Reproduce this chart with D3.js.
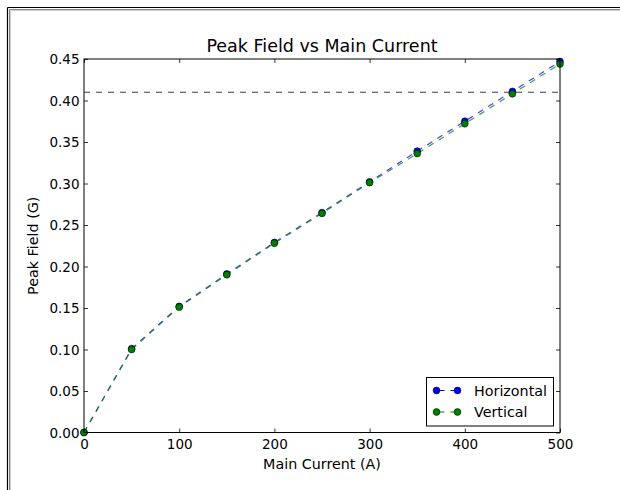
<!DOCTYPE html>
<html>
<head>
<meta charset="utf-8">
<script src="https://cdn.jsdelivr.net/npm/d3@7"></script>
<style>
html,body{margin:0;padding:0;background:#fff;}
svg{display:block;}
text{font-family:"DejaVu Sans",sans-serif;fill:#000;}
</style>
</head>
<body>
<script>
const currents = [0, 50, 100, 150, 200, 250, 300, 350, 400, 450, 500];
const horizontal = [0, 0.101, 0.152, 0.191, 0.229, 0.265, 0.302, 0.339, 0.375, 0.411, 0.447];
const vertical = [0, 0.100, 0.151, 0.190, 0.228, 0.264, 0.301, 0.336, 0.372, 0.408, 0.444];
const xTicks = [0, 100, 200, 300, 400, 500];
const yTicks = [0, 0.05, 0.10, 0.15, 0.20, 0.25, 0.30, 0.35, 0.40, 0.45];
const threshold = 0.41;
const seriesNames = ["Horizontal", "Vertical"];

const W = 620, H = 490;
const L = 84, R = 560, T = 59, B = 432.5;

const svg = d3.select("body").append("svg").attr("width", W).attr("height", H);

// outer frame
svg.append("line").attr("x1",7.5).attr("y1",7.5).attr("x2",W+5).attr("y2",7.5).attr("stroke","#000").attr("stroke-width",1.2);
svg.append("line").attr("x1",7.5).attr("y1",7.5).attr("x2",7.5).attr("y2",H+5).attr("stroke","#000").attr("stroke-width",1.2);
svg.append("line").attr("x1",9.5).attr("y1",9.5).attr("x2",W+5).attr("y2",9.5).attr("stroke","#888").attr("stroke-width",1);
svg.append("line").attr("x1",9.5).attr("y1",9.5).attr("x2",9.5).attr("y2",H+5).attr("stroke","#888").attr("stroke-width",1);
svg.append("line").attr("x1",10.5).attr("y1",10.5).attr("x2",W+5).attr("y2",10.5).attr("stroke","#ccc").attr("stroke-width",1);
svg.append("line").attr("x1",10.5).attr("y1",10.5).attr("x2",10.5).attr("y2",H+5).attr("stroke","#ccc").attr("stroke-width",1);

const x = d3.scaleLinear().domain([0, 500]).range([L, R]);
const y = d3.scaleLinear().domain([0, 0.45]).range([B, T]);

const defs = svg.append("defs");
defs.append("clipPath").attr("id","clip").append("rect")
  .attr("x", L).attr("y", T).attr("width", R-L).attr("height", B-T);

// axes with inward ticks
const tickLen = 4;
const tickFont = 13.5;
const gB = svg.append("g").attr("transform",`translate(0,${B})`)
  .call(d3.axisBottom(x).tickValues(xTicks).tickSizeInner(-tickLen).tickSizeOuter(0).tickFormat(d3.format("d")));
const gT = svg.append("g").attr("transform",`translate(0,${T})`)
  .call(d3.axisTop(x).tickValues(xTicks).tickSizeInner(-tickLen).tickSizeOuter(0).tickFormat(""));
const gL = svg.append("g").attr("transform",`translate(${L},0)`)
  .call(d3.axisLeft(y).tickValues(yTicks).tickSizeInner(-tickLen).tickSizeOuter(0).tickFormat(d3.format(".2f")));
const gR = svg.append("g").attr("transform",`translate(${R},0)`)
  .call(d3.axisRight(y).tickValues(yTicks).tickSizeInner(-tickLen).tickSizeOuter(0).tickFormat(""));
[gB,gT,gL,gR].forEach(g => {
  g.select(".domain").remove();
  g.selectAll(".tick line").attr("stroke","#000").attr("stroke-width",0.8);
  g.selectAll("text").attr("font-size",tickFont).attr("font-family","DejaVu Sans").attr("fill","#000");
});
gB.selectAll("text").attr("dy",null).attr("y", 449 - B);
gL.selectAll("text").attr("x", -4.5).attr("dy","0.36em");

// threshold dashed line
svg.append("line")
  .attr("x1", x(0)).attr("x2", x(500)).attr("y1", y(threshold)).attr("y2", y(threshold))
  .attr("stroke","#000").attr("stroke-opacity",0.75).attr("stroke-width",1.1).attr("stroke-dasharray","6,6");

const plot = svg.append("g").attr("clip-path","url(#clip)");
const line = d3.line().x((d,i)=>x(currents[i])).y(d=>y(d));

plot.append("path").datum(horizontal).attr("d", line)
  .attr("fill","none").attr("stroke","#0000ff").attr("stroke-opacity",0.75).attr("stroke-width",1.2).attr("stroke-dasharray","6,6");
plot.append("path").datum(vertical).attr("d", line)
  .attr("fill","none").attr("stroke","#008000").attr("stroke-opacity",0.75).attr("stroke-width",1.2).attr("stroke-dasharray","6,6");

const rad = 3.4;
const pts = svg.append("g");
pts.selectAll(".h").data(horizontal).enter().append("circle")
  .attr("cx",(d,i)=>x(currents[i])).attr("cy",d=>y(d)).attr("r",rad)
  .attr("fill","#0000ff").attr("stroke","#000").attr("stroke-width",0.55);
pts.selectAll(".v").data(vertical).enter().append("circle")
  .attr("cx",(d,i)=>x(currents[i])).attr("cy",d=>y(d)).attr("r",rad)
  .attr("fill","#008000").attr("stroke","#000").attr("stroke-width",0.55);

// frame of axes
svg.append("rect").attr("x",L).attr("y",T).attr("width",R-L).attr("height",B-T)
  .attr("fill","none").attr("stroke","#000").attr("stroke-width",1);

// title and labels
svg.append("text").attr("x",(L+R)/2).attr("y",52).attr("text-anchor","middle")
  .attr("font-size",17.5).text("Peak Field vs Main Current");
svg.append("text").attr("x",(L+R)/2).attr("y",469).attr("text-anchor","middle")
  .attr("font-size",14.3).text("Main Current (A)");
svg.append("text").attr("transform",`translate(38,${(T+B)/2}) rotate(-90)`).attr("text-anchor","middle")
  .attr("font-size",14.3).text("Peak Field (G)");

// legend
const lg = svg.append("g");
lg.append("rect").attr("x",426.5).attr("y",377.5).attr("width",127).attr("height",48.5)
  .attr("fill","#fff").attr("stroke","#000").attr("stroke-width",1);
const legColors = ["#0000ff","#008000"];
seriesNames.forEach((name,i)=>{
  const yy = 390.5 + i*21.5;
  lg.append("line").attr("x1",436.5).attr("x2",457.5).attr("y1",yy).attr("y2",yy)
    .attr("stroke",legColors[i]).attr("stroke-width",1.2).attr("stroke-dasharray","6,6").attr("stroke-dashoffset",-2);
  [436.5,457.5].forEach(cx=>{
    lg.append("circle").attr("cx",cx).attr("cy",yy).attr("r",rad)
      .attr("fill",legColors[i]).attr("stroke","#000").attr("stroke-width",0.55);
  });
  lg.append("text").attr("x",474).attr("y",yy).attr("dy","0.36em").attr("font-size",14.3).text(name);
});
</script>
</body>
</html>
